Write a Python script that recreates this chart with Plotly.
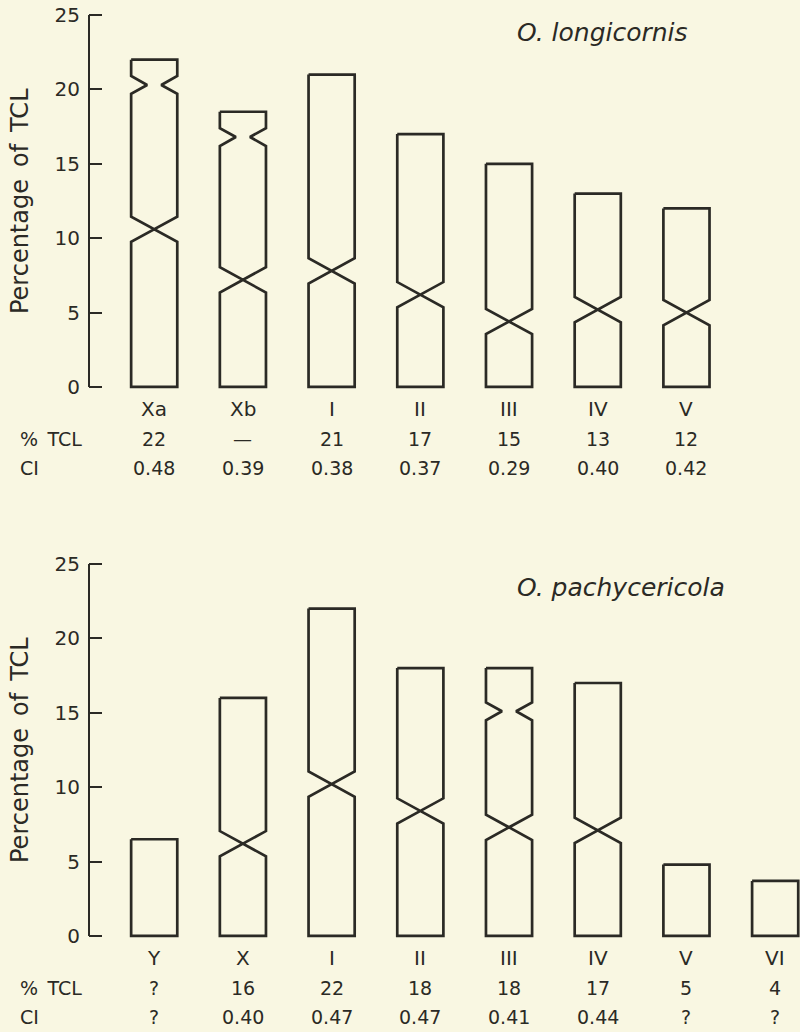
import plotly.graph_objects as go

# ---------------- data ----------------
cats_top = ["Xa", "Xb", "I", "II", "III", "IV", "V"]
len_top = [22, 18.5, 21, 17, 15, 13, 12]
cen_top = [10.6, 7.2, 7.8, 6.2, 4.4, 5.2, 5.0]
sec_top = [20.3, 16.8, None, None, None, None, None]
tcl_top = ["22", "—", "21", "17", "15", "13", "12"]
ci_top = ["0.48", "0.39", "0.38", "0.37", "0.29", "0.40", "0.42"]

cats_bot = ["Y", "X", "I", "II", "III", "IV", "V", "VI"]
len_bot = [6.5, 16, 22, 18, 18, 17, 4.8, 3.7]
cen_bot = [None, 6.2, 10.2, 8.4, 7.3, 7.1, None, None]
sec_bot = [None, None, None, None, 15.1, None, None, None]
tcl_bot = ["?", "16", "22", "18", "18", "17", "5", "4"]
ci_bot = ["?", "0.40", "0.47", "0.47", "0.41", "0.44", "?", "?"]

y_ticks = [0, 5, 10, 15, 20, 25]
title_top = "O. longicornis"
title_bot = "O. pachycericola"
y_title = "Percentage\u2002of\u2002TCL"
row_tcl = "%\u2002TCL"
row_ci = "CI"

# ---------------- style ----------------
BG = "#f9f7e2"
INK = "#2b2a25"
FONT = "DejaVu Sans"
HW = 0.26      # half width of chromosome (category units)
HC = 0.85      # centromere half height (y units)
HS = 0.6       # secondary constriction half height
DN = 0.18      # notch depth
YR = [-0.6, 25.4]


def yd(v):
    return (v - YR[0]) / (YR[1] - YR[0])


def fnt(size, **kw):
    return dict(size=size, color=INK, family=FONT, **kw)


def outline(i, top, cen, sec):
    L, R = i - HW, i + HW
    xs, ys = [L], [top]
    if sec is not None:
        xs += [L, L + DN, L]
        ys += [sec + HS, sec, sec - HS]
    if cen is not None:
        xs += [L, R, R, L, L, R]
        ys += [cen + HC, cen - HC, 0, 0, cen - HC, cen + HC]
    else:
        xs += [L, R]
        ys += [0, 0]
    if sec is not None:
        xs += [R, R - DN, R]
        ys += [sec - HS, sec, sec + HS]
    xs += [R, L]
    ys += [top, top]
    return xs, ys


fig = go.Figure()

panels = [
    ("x", "y", cats_top, len_top, cen_top, sec_top, tcl_top, ci_top, title_top, 23.8),
    ("x2", "y2", cats_bot, len_bot, cen_bot, sec_bot, tcl_bot, ci_bot, title_bot, 23.4),
]

ann = []
shapes = []
for xr, yr, cats, lens, cens, secs, tcls, cis, ttl, ty in panels:
    ydom = yr + " domain"
    for i, c in enumerate(cats):
        xs, ys = outline(i, lens[i], cens[i], secs[i])
        fig.add_trace(go.Scatter(x=xs, y=ys, mode="lines", xaxis=xr, yaxis=yr,
                                 line=dict(color=INK, width=2.7),
                                 showlegend=False, hoverinfo="skip", name=c))
        ann.append(dict(x=i, y=yd(-1.45), xref=xr, yref=ydom, text=c, showarrow=False,
                        xanchor="center", yanchor="middle", font=fnt(20)))
        ann.append(dict(x=i, y=yd(-3.5), xref=xr, yref=ydom, text=tcls[i], showarrow=False,
                        xanchor="center", yanchor="middle", font=fnt(19)))
        ann.append(dict(x=i, y=yd(-5.45), xref=xr, yref=ydom, text=cis[i], showarrow=False,
                        xanchor="center", yanchor="middle", font=fnt(19)))
    ann.append(dict(x=-0.1, y=yd(-3.5), xref="paper", yref=ydom, text=row_tcl,
                    showarrow=False, xanchor="left", yanchor="middle", font=fnt(19)))
    ann.append(dict(x=-0.1, y=yd(-5.45), xref="paper", yref=ydom, text=row_ci,
                    showarrow=False, xanchor="left", yanchor="middle", font=fnt(19)))
    ann.append(dict(x=4.07, y=yd(ty), xref=xr, yref=ydom, text=ttl,
                    showarrow=False, xanchor="left", yanchor="middle",
                    font=fnt(25, style="italic")))
    ann.append(dict(x=-0.097, y=yd(12.5), xref="paper", yref=ydom, text=y_title,
                    textangle=-90, showarrow=False, xanchor="center", yanchor="middle",
                    font=fnt(24)))
    shapes.append(dict(type="line", xref=xr + " domain", yref=yr, x0=0, x1=0,
                       y0=y_ticks[0], y1=y_ticks[-1], line=dict(color=INK, width=2)))

yax = dict(range=YR, tickvals=y_ticks, ticks="inside", ticklen=13,
           tickwidth=2, tickcolor=INK, showline=False, showgrid=False, zeroline=False,
           ticklabelstandoff=8, tickfont=fnt(20), fixedrange=True, automargin=False)
xax = dict(range=[-0.735, 7.28], visible=False, showgrid=False, zeroline=False,
           fixedrange=True, automargin=False)

fig.update_layout(
    width=800, height=1032,
    margin=dict(l=89, r=0, t=0, b=0, pad=0),
    paper_bgcolor=BG, plot_bgcolor=BG,
    xaxis=dict(xax, domain=[0, 1], anchor="y"),
    yaxis=dict(yax, domain=[0.6164, 0.9912], anchor="x"),
    xaxis2=dict(xax, domain=[0, 1], anchor="y2"),
    yaxis2=dict(yax, domain=[0.0844, 0.4593], anchor="x2"),
    annotations=ann,
    shapes=shapes,
    showlegend=False,
)

fig.write_html("out.html",
               config={"displayModeBar": False},
               post_script="document.body.style.margin='0';"
                           "document.body.style.overflow='hidden';"
                           "document.body.style.background='" + BG + "';")
